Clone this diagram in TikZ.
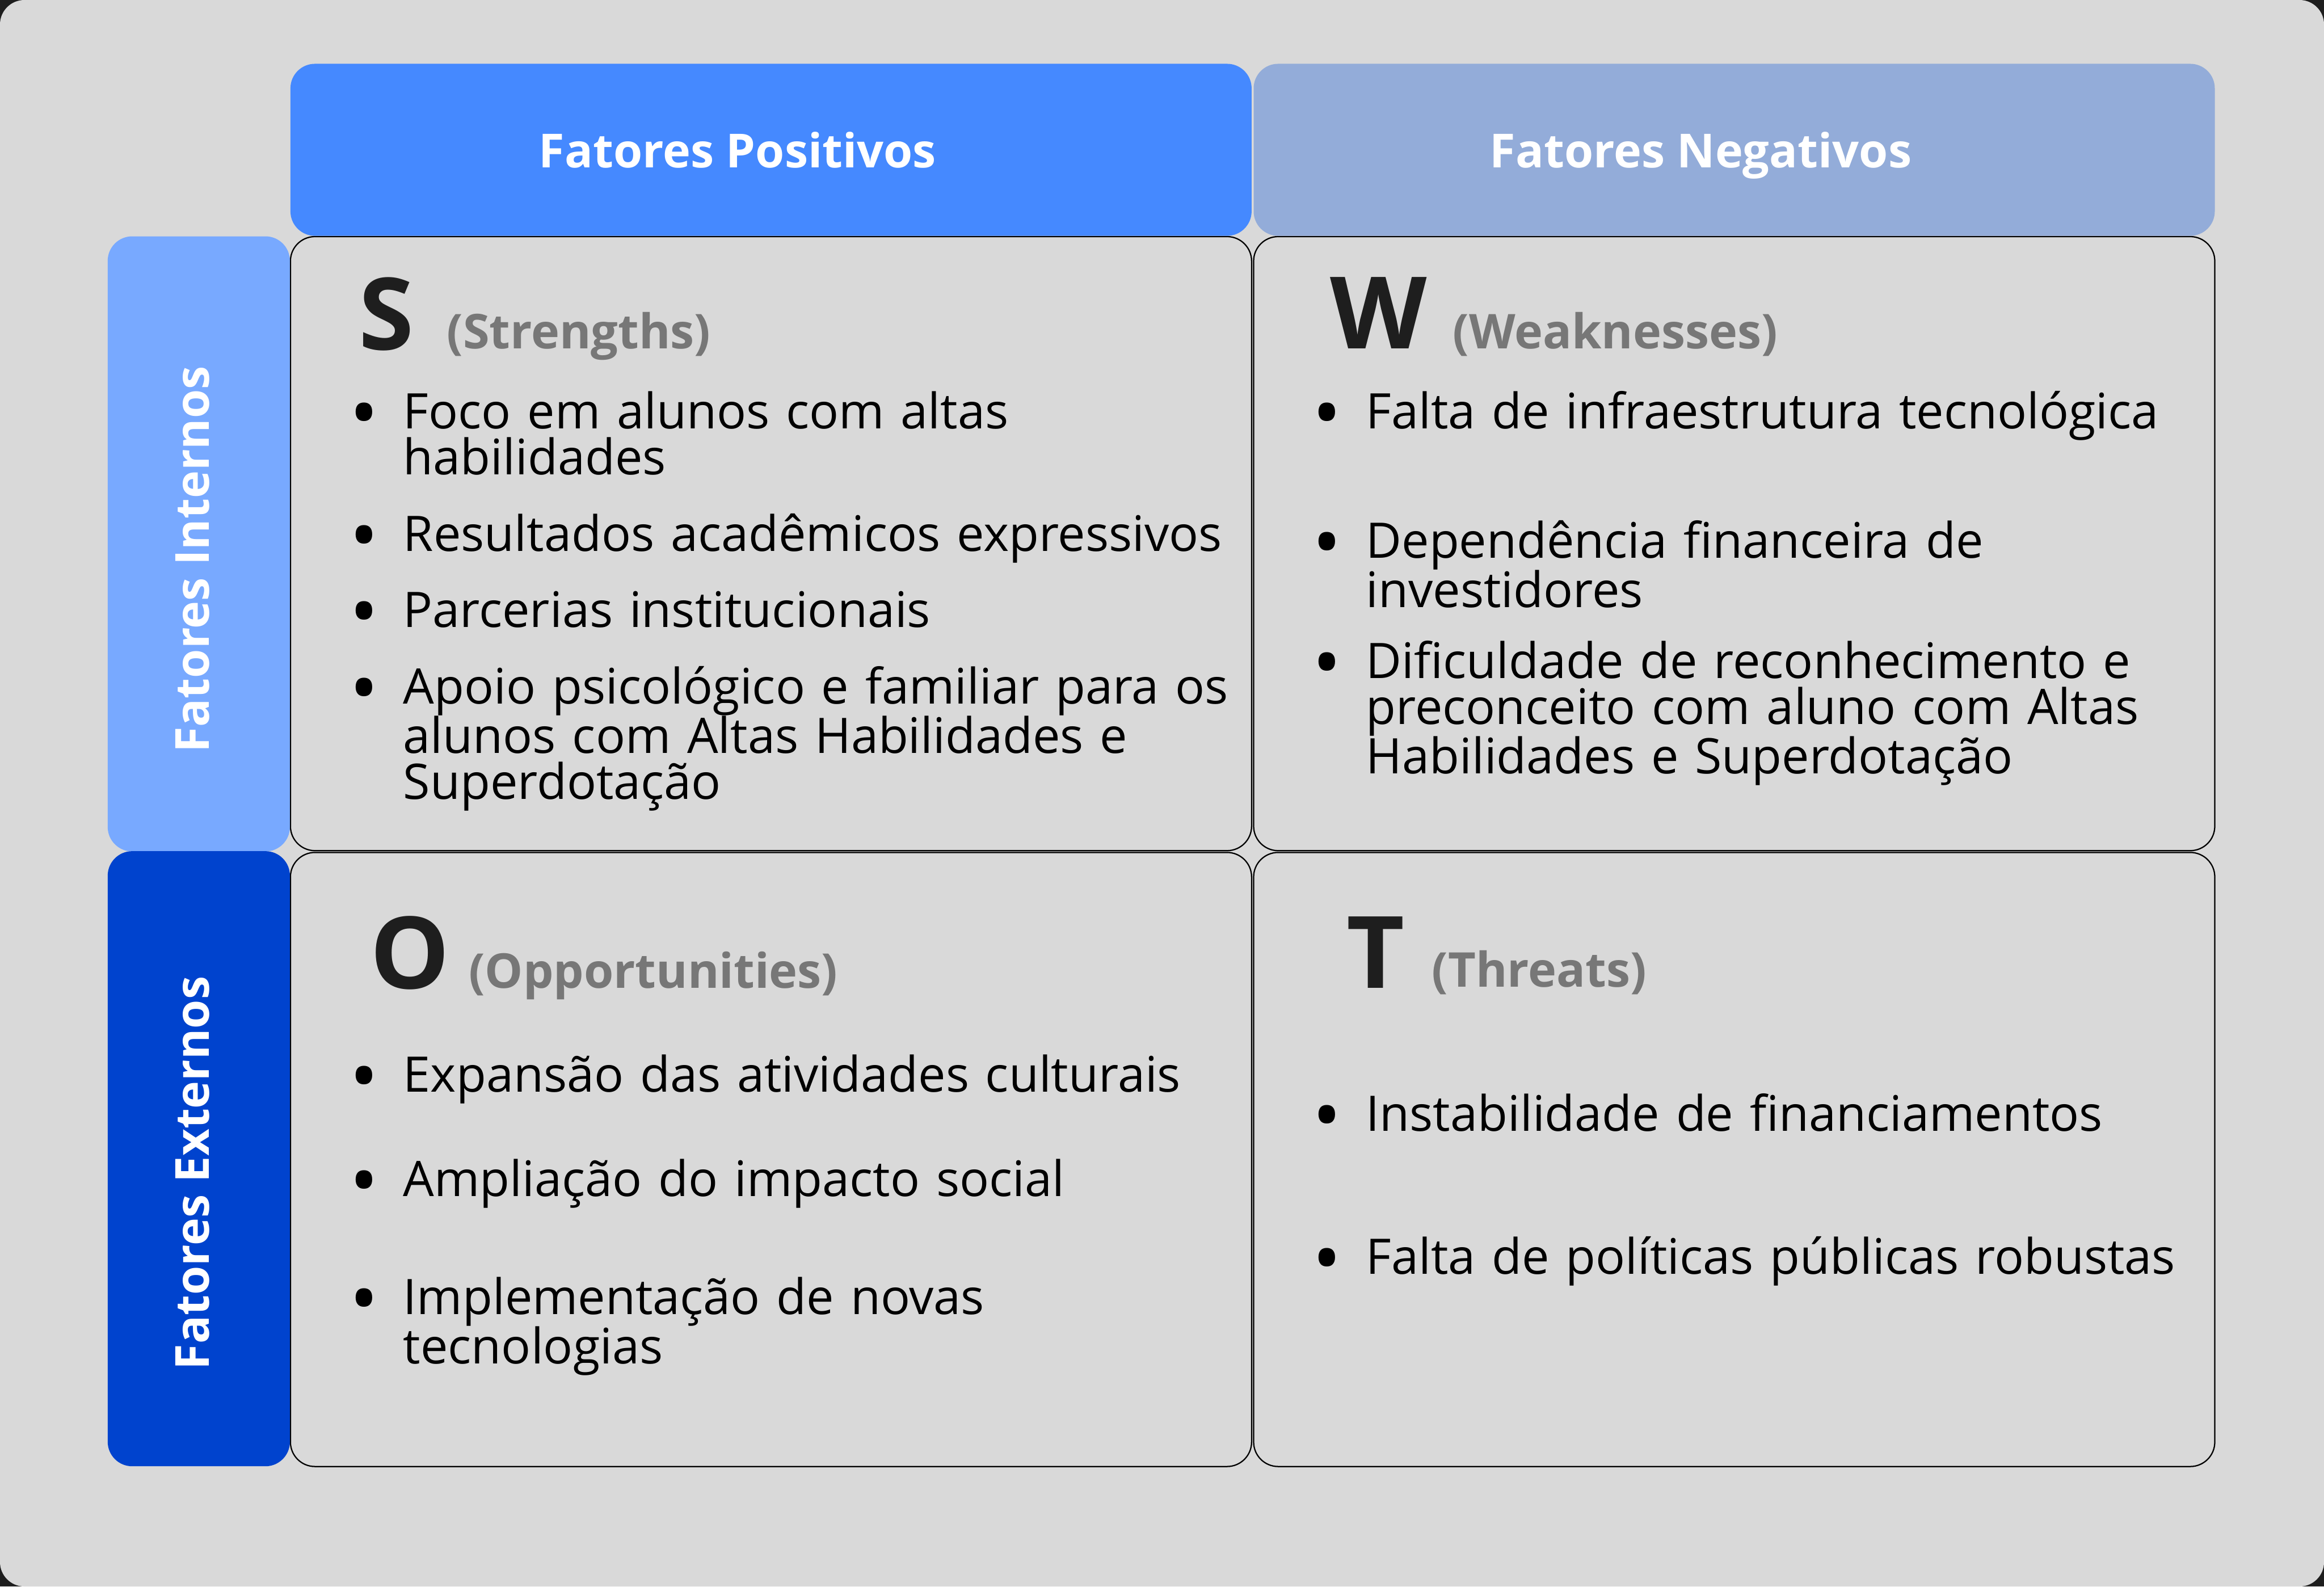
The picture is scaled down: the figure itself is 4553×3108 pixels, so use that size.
\documentclass[tikz,border=0pt]{standalone}
\usepackage{fontspec}
\setmainfont{Open Sans}
\definecolor{bgdark}{HTML}{1E1E1E}
\definecolor{bggray}{HTML}{D9D9D9}
\definecolor{posblue}{HTML}{4589FF}
\definecolor{negblue}{HTML}{93ACD9}
\definecolor{intblue}{HTML}{78A9FF}
\definecolor{extblue}{HTML}{0043CE}
\definecolor{paren}{HTML}{777777}
\definecolor{letter}{HTML}{1E1E1E}
\tikzset{
  panel/.style={rounded corners=48pt, inner sep=0pt, outer sep=0pt},
  cellbox/.style={panel, draw=black, line width=2.5pt, fill=bggray, minimum width=1883pt, minimum height=1203pt},
  headbox/.style={panel, minimum width=1883pt, minimum height=337pt},
  sidebox/.style={panel, minimum width=357pt, minimum height=1205pt},
  headtext/.style={inner sep=0pt, anchor=base, text=white, font=\fontsize{92}{92}\selectfont\bfseries},
  bigletter/.style={inner sep=0pt, anchor=base west, text=letter, font=\fontsize{196}{196}\selectfont\bfseries},
  parentext/.style={inner sep=0pt, anchor=base west, text=paren, font=\fontsize{94}{94}\selectfont\bfseries},
  bulletmark/.style={inner sep=0pt, anchor=base, text=black, font=\fontsize{150}{150}\selectfont, yshift=-22pt},
  itemtext/.style={inner sep=0pt, anchor=base west, text=black, text width=1800pt, align=left, font=\fontsize{96}{90}\selectfont}
}
\begin{document}
\begin{tikzpicture}[x=1pt,y=-1pt]
\useasboundingbox (0,0) rectangle (4553,3108);
\fill[bgdark] (0,0) rectangle (4553,3108);
\node[panel, fill=bggray, minimum width=4553pt, minimum height=3108pt] (bg) at (2276.5,1554) {};
% cells
\node[cellbox] (cS) at (1510.5,1065) {};
\node[cellbox] (cW) at (3397.5,1065) {};
\node[cellbox] (cO) at (1510.5,2271.5) {};
\node[cellbox] (cT) at (3397.5,2271.5) {};
% headers
\node[headbox, fill=posblue] (hpos) at (1510.5,293.5) {};
\node[headbox, fill=negblue] (hneg) at (3397.5,293.5) {};
\node[sidebox, fill=intblue] (lint) at (389.5,1065.5) {};
\node[sidebox, fill=extblue] (lext) at (389.5,2270) {};
\node[headtext] (tpos) at (1445,328) {Fatores Positivos};
\node[headtext] (tneg) at (3332,328) {Fatores Negativos};
\node[headtext, rotate=90] (tint) at (410,1096) {Fatores Internos};
\node[headtext, rotate=90] (text) at (410,2298) {Fatores Externos};
% S
\node[bigletter] (lS) at (703,685) {S};
\node[parentext] (pS) at (875,683) {(Strengths)};
\node[bulletmark] (bS1) at (713,840) {•};
\node[itemtext] (iS1) at (790,840) {Foco em alunos com altas\\habilidades};
\node[bulletmark] (bS2) at (713,1080) {•};
\node[itemtext] (iS2) at (790,1080) {Resultados acadêmicos expressivos};
\node[bulletmark] (bS3) at (713,1229) {•};
\node[itemtext] (iS3) at (790,1229) {Parcerias institucionais};
\node[bulletmark] (bS4) at (713,1379) {•};
\node[itemtext] (iS4) at (790,1379) {Apoio psicológico e familiar para os\\alunos com Altas Habilidades e\\Superdotação};
% W
\node[bigletter] (lW) at (2606,683) {W};
\node[parentext] (pW) at (2846,683) {(Weaknesses)};
\node[bulletmark] (bW1) at (2600,840) {•};
\node[itemtext] (iW1) at (2676,840) {Falta de infraestrutura tecnológica};
\node[bulletmark] (bW2) at (2600,1093) {•};
\node[itemtext] (iW2) at (2676,1093) {Dependência financeira de\\investidores};
\node[bulletmark] (bW3) at (2600,1329) {•};
\node[itemtext] (iW3) at (2676,1329) {Dificuldade de reconhecimento e\\preconceito com aluno com Altas\\Habilidades e Superdotação};
% O
\node[bigletter] (lO) at (725,1937) {O};
\node[parentext] (pO) at (918,1936) {(Opportunities)};
\node[bulletmark] (bO1) at (713,2139) {•};
\node[itemtext] (iO1) at (790,2139) {Expansão das atividades culturais};
\node[bulletmark] (bO2) at (713,2344) {•};
\node[itemtext] (iO2) at (790,2344) {Ampliação do impacto social};
\node[bulletmark] (bO3) at (713,2575) {•};
\node[itemtext] (iO3) at (790,2575) {Implementação de novas\\tecnologias};
% T
\node[bigletter] (lT) at (2638,1936) {T};
\node[parentext] (pT) at (2805,1934) {(Threats)};
\node[bulletmark] (bT1) at (2600,2216) {•};
\node[itemtext] (iT1) at (2676,2216) {Instabilidade de financiamentos};
\node[bulletmark] (bT2) at (2600,2496) {•};
\node[itemtext] (iT2) at (2676,2496) {Falta de políticas públicas robustas};
\end{tikzpicture}
\end{document}
